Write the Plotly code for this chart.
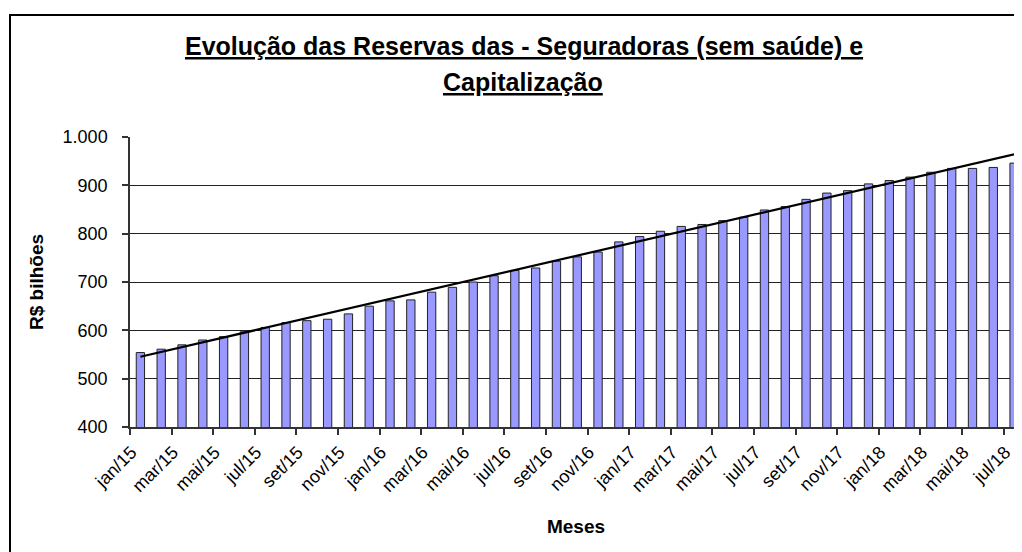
import numpy as np
import plotly.graph_objects as go

meses = ["jan", "fev", "mar", "abr", "mai", "jun", "jul", "ago", "set", "out", "nov", "dez"]
anos = ["15", "16", "17", "18"]
categorias = [f"{m}/{a}" for a in anos for m in meses][:43]  # jan/15 .. jul/18

reservas = [554, 561, 570, 580, 587, 597, 606, 616, 620, 623, 634, 650,
            661, 663, 679, 689, 700, 713, 724, 729, 743, 752, 762, 783,
            794, 805, 815, 819, 827, 834, 849, 856, 871, 884, 889, 903,
            910, 917, 927, 935, 935, 937, 946]

titulo_l1 = "Evolução das Reservas das - Seguradoras (sem saúde) e"
titulo_l2 = "Capitalização"
y_titulo = "R$ bilhões"
x_titulo = "Meses"

# linear trendline (as in the spreadsheet)
idx = np.arange(len(reservas))
a, b = np.polyfit(idx, reservas, 1)
tendencia = (a * idx + b).tolist()

FONT = "Liberation Sans, Arial, sans-serif"

# the page body adds an 8px offset; figure pixels = screen pixels - 8
OFF = 8
W, H = 1022 - OFF, 552 - OFF
L, T, B = 130 - OFF, 137 - OFF, 125
pw = W - L
ph = H - T - B


def px_x(p):
    return (p - OFF - L) / pw


def px_y(p):
    return (H - B - (p - OFF)) / ph


fig = go.Figure()
fig.add_trace(go.Bar(
    x=categorias, y=reservas,
    marker=dict(color="#9999FF", line=dict(color="#222222", width=1)),
    showlegend=False,
))
fig.add_trace(go.Scatter(
    x=categorias, y=tendencia, mode="lines",
    line=dict(color="black", width=2.2), showlegend=False,
))

fig.update_layout(
    width=W, height=H,
    margin=dict(l=L, r=0, t=T, b=B, pad=0),
    paper_bgcolor="white", plot_bgcolor="white",
    separators=",.",
    bargap=0.6,
    font=dict(family=FONT, color="black", size=17),
    xaxis=dict(
        type="category", range=[-0.5, 42.38],
        tickmode="linear", tick0=0, dtick=2, tickson="boundaries",
        ticks="outside", ticklen=6, tickcolor="#333333", tickwidth=1.5,
        tickangle=-45, tickfont=dict(size=18), ticklabelshift=-9,
        ticklabelstandoff=6,
        showline=True, linecolor="#333333", linewidth=1.5,
        showgrid=False, zeroline=False,
        title=dict(text=f"<b>{x_titulo}</b>", font=dict(size=19), standoff=25),
    ),
    yaxis=dict(
        range=[400, 1000], tickmode="linear", tick0=400, dtick=100,
        tickformat=",d", ticks="outside", ticklen=6, tickcolor="#333333", tickwidth=1.5,
        tickfont=dict(size=18), ticklabelstandoff=11,
        showline=True, linecolor="#333333", linewidth=1.5,
        showgrid=True, gridcolor="#222222", gridwidth=1, zeroline=False,
        title=dict(text=f"<b>{y_titulo}</b>", font=dict(size=19), standoff=14),
    ),
    shapes=[dict(
        type="rect", xref="paper", yref="paper",
        x0=px_x(10), x1=px_x(1045), y0=px_y(575), y1=px_y(15),
        line=dict(color="black", width=2), fillcolor="rgba(0,0,0,0)", layer="below",
    )],
    annotations=[
        dict(text=f"<b><u>{titulo_l1}</u></b>", xref="paper", yref="paper",
             x=px_x(524), y=px_y(46), xanchor="center", yanchor="middle",
             showarrow=False, font=dict(size=25)),
        dict(text=f"<b><u>{titulo_l2}</u></b>", xref="paper", yref="paper",
             x=px_x(523), y=px_y(82), xanchor="center", yanchor="middle",
             showarrow=False, font=dict(size=25)),
    ],
)

fig.write_html("out.html")
